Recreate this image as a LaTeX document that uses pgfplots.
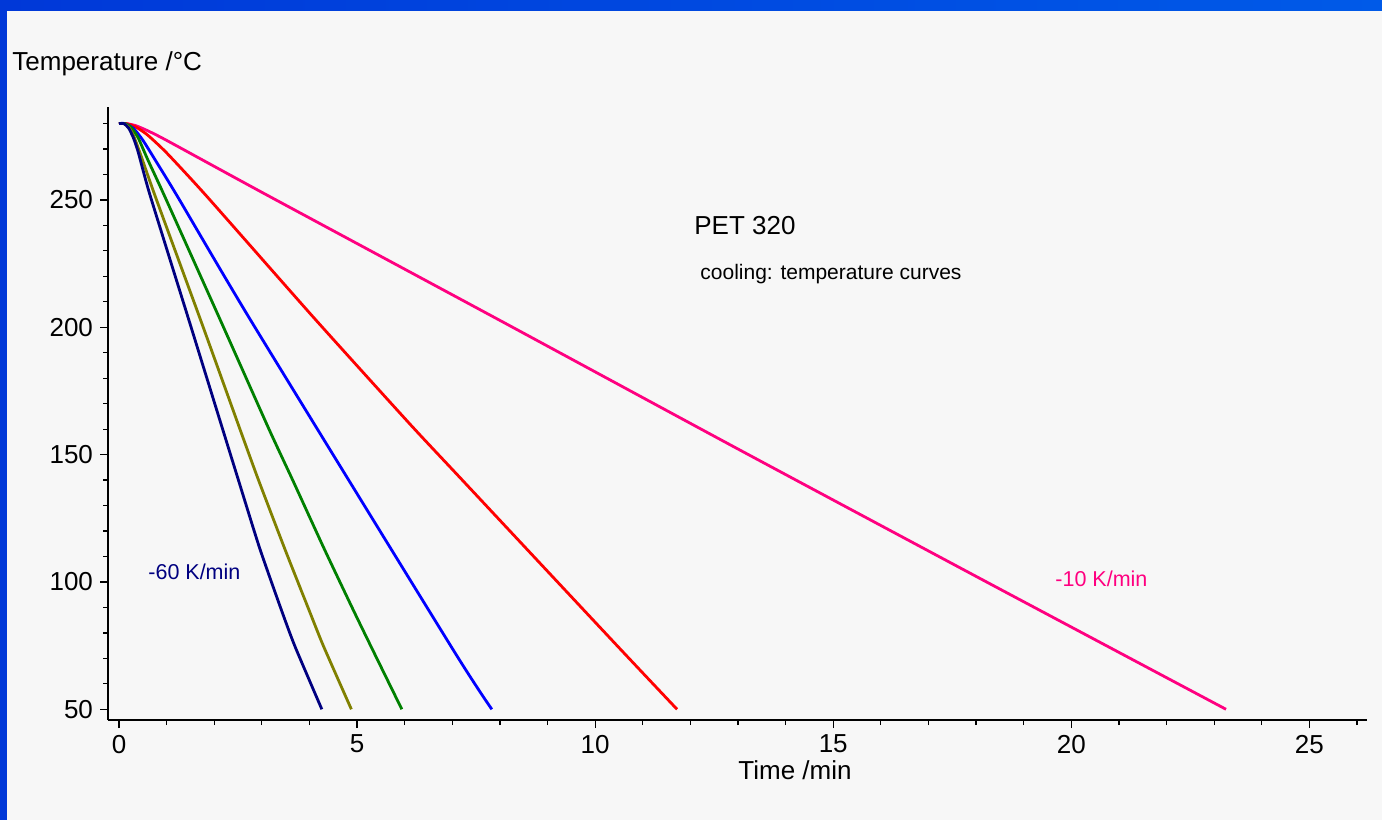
\documentclass[border=0pt]{standalone}
\usepackage{fontspec}
\setmainfont{Liberation Sans}
\usepackage{pgfplots}
\pgfplotsset{compat=1.18}
\definecolor{bgc}{RGB}{247,247,247}
\definecolor{frameA}{RGB}{0,56,216}
\definecolor{frameB}{RGB}{0,90,232}
\definecolor{cnavy}{RGB}{0,0,128}
\definecolor{colive}{RGB}{128,128,0}
\definecolor{cgreen}{RGB}{0,128,0}
\definecolor{cblue}{RGB}{0,0,255}
\definecolor{cred}{RGB}{255,0,0}
\definecolor{cmag}{RGB}{255,0,128}
\begin{document}
\begin{tikzpicture}
\useasboundingbox (0,0) rectangle (691pt,410pt);
\fill[bgc] (0,0) rectangle (691pt,410pt);
\shade[left color=frameA,right color=frameB] (0,404.5pt) rectangle (691pt,410pt);
\fill[frameA] (0,0) rectangle (3.5pt,410pt);
\begin{axis}[
  at={(54pt,50pt)}, anchor=south west,
  scale only axis, width=629.5pt, height=306.5pt,
  xmin=-0.231, xmax=26.21, ymin=45.8, ymax=286.5,
  axis x line=bottom, axis y line=left,
  axis line style={-, black, line width=0.75pt},
  xtick={0,5,...,25}, ytick={50,100,...,250},
  minor xtick={1,2,3,4,6,7,8,9,11,12,13,14,16,17,18,19,21,22,23,24,26},
  minor ytick={60,70,80,90,110,120,130,140,160,170,180,190,210,220,230,240,260,270,280},
  tick align=outside, tick pos=left,
  major tick length=4pt, minor tick length=2.5pt,
  tick style={black, line width=0.6pt},
  ticklabel style={font=\fontsize{13}{15.6}\selectfont},
  /pgf/number format/assume math mode=true,
  every axis plot/.append style={line width=1.4pt, mark=none, smooth, tension=0.35},
  clip=false,
]
\addplot[cmag] coordinates {
(0,280) (0.15,280) (0.35,279.2) (0.6,277.2) (1.0,273.4) (3.07,252.3) (8.07,202) (13,152.2) (18.2,100.2) (23.25,50)};
\addplot[cred] coordinates {
(0,280) (0.15,280) (0.35,278.7) (0.6,275.5) (1.0,268.5) (1.84,251.5) (4.08,204) (6.11,162) (7.16,141) (10.45,75.2) (11.72,50)};
\addplot[cblue] coordinates {
(0,280) (0.12,280) (0.3,278.2) (0.5,273.5) (0.8,264.5) (1.24,251) (2.79,202) (7.02,73.3) (7.83,50)};
\addplot[cgreen] coordinates {
(0,280) (0.12,280) (0.25,278.6) (0.4,274.5) (0.6,266) (0.97,251) (2.16,201.5) (3.15,160) (3.66,139.5) (4.31,113) (4.92,89) (5.31,74) (5.94,50)};
\addplot[colive] coordinates {
(0,280) (0.1,280) (0.2,278.7) (0.3,275.5) (0.45,268) (0.76,251.5) (1.74,201.5) (2.54,160) (2.92,140.5) (3.49,112.6) (3.99,89) (4.29,75) (4.88,50)};
\addplot[cnavy] coordinates {
(0,280) (0.1,280) (0.2,278.3) (0.3,274.5) (0.4,269) (0.65,252) (1.49,201.5) (2.16,161) (2.50,140.5) (2.95,113.5) (3.42,88.5) (3.70,74.5) (4.26,50)};
\end{axis}
\node[anchor=base west,inner sep=0pt,font=\fontsize{13}{15.6}\selectfont] at (6pt,374.5pt) {Temperature /°C};
\node[anchor=base west,inner sep=0pt,font=\fontsize{13}{15.6}\selectfont] at (369pt,20.5pt) {Time /min};
\node[anchor=base west,inner sep=0pt,font=\fontsize{13}{15.6}\selectfont] at (347pt,292.5pt) {PET 320};
\node[anchor=base west,inner sep=0pt,font=\fontsize{10.5}{12.6}\selectfont] at (350pt,270pt) {cooling: temperature curves};
\node[anchor=base west,inner sep=0pt,font=\fontsize{10.75}{13}\selectfont,text=cnavy] at (74pt,120pt) {-60 K/min};
\node[anchor=base west,inner sep=0pt,font=\fontsize{10.75}{13}\selectfont,text=cmag] at (527.5pt,116.5pt) {-10 K/min};
\end{tikzpicture}
\end{document}
